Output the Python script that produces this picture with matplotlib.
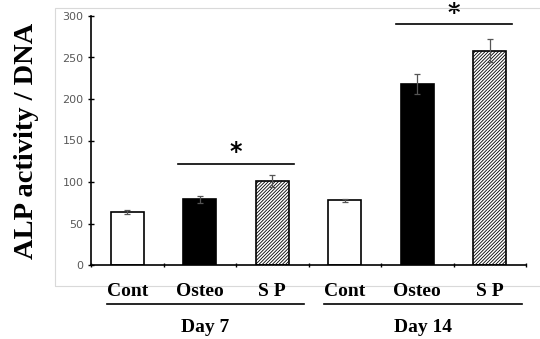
import matplotlib.pyplot as plt
from matplotlib.patches import Rectangle
from matplotlib.lines import Line2D

# data
groups = ["Cont", "Osteo", "S P", "Cont", "Osteo", "S P"]
days = ["Day 7", "Day 14"]
values = [64, 79, 101, 78, 218, 258]
errors = [2, 4, 7, 1.5, 12, 14]
sig_pairs = [(1, 2, 122), (4, 5, 290)]

W, H = 540, 339
fig = plt.figure(figsize=(W / 100, H / 100), dpi=100)

# faint chart-area frame
fig.patches.append(Rectangle((55 / W, 1 - 286 / H), 500 / W, 278 / H,
                             transform=fig.transFigure, fill=False,
                             edgecolor="#d9d9d9", linewidth=0.8))

ax = fig.add_axes([91 / W, 1 - 265 / H, 435 / W, 249 / H])
x = list(range(len(values)))
faces = ["white", "black", "white"] * 2
hatches = [None, None, "//////////"] * 2
plt.rcParams["hatch.linewidth"] = 0.6
for xi, v, e, fc, h in zip(x, values, errors, faces, hatches):
    ax.bar(xi, v, width=0.46, color=fc, edgecolor="black", linewidth=1.2,
           hatch=h, zorder=2)
    ax.errorbar(xi, v, yerr=e, fmt="none", ecolor="#555555", elinewidth=0.9,
                capsize=2.5, capthick=0.9, zorder=3)

ax.set_xlim(-0.5, 5.5)
ax.set_ylim(0, 300)
ax.set_yticks(range(0, 301, 50))
ax.tick_params(axis="y", labelsize=8, labelcolor="#595959", length=4,
               direction="inout", width=1)
ax.set_xticks([])
ax.set_xticks([i + 0.5 for i in range(-1, 6)], minor=True)
ax.tick_params(axis="x", which="minor", length=3, direction="inout",
               width=1, labelbottom=False)
for s in ["top", "right"]:
    ax.spines[s].set_visible(False)
for s in ["left", "bottom"]:
    ax.spines[s].set_linewidth(1.2)

for a, b, y in sig_pairs:
    ax.plot([a - 0.3, b + 0.3], [y, y], color="black", linewidth=1.2,
            clip_on=False)
    ax.text((a + b) / 2, y + 14, "*", ha="center", va="center",
            fontsize=17, fontweight="bold", fontfamily="DejaVu Sans",
            clip_on=False)

ax.set_ylabel("ALP activity / DNA", fontsize=20.5, fontweight="bold",
              fontfamily="Liberation Serif", va="center")
ax.yaxis.set_label_coords(-0.148, 0.5)

# category labels, group lines and day labels
for xi, g in zip(x, groups):
    px = (91 + 72.5 * (xi + 0.5)) / W
    fig.text(px, 1 - 292 / H, g, ha="center", va="center", fontsize=14,
             fontweight="bold", fontfamily="Liberation Serif")
for (x0, x1), d in zip([(107, 304), (324, 522)], days):
    fig.add_artist(Line2D([x0 / W, x1 / W], [1 - 304 / H] * 2,
                          color="black", linewidth=1.2))
    fig.text((x0 + x1) / 2 / W, 1 - 327 / H, d, ha="center", va="center",
             fontsize=14, fontweight="bold", fontfamily="Liberation Serif")

fig.savefig("out.png", dpi=100)
